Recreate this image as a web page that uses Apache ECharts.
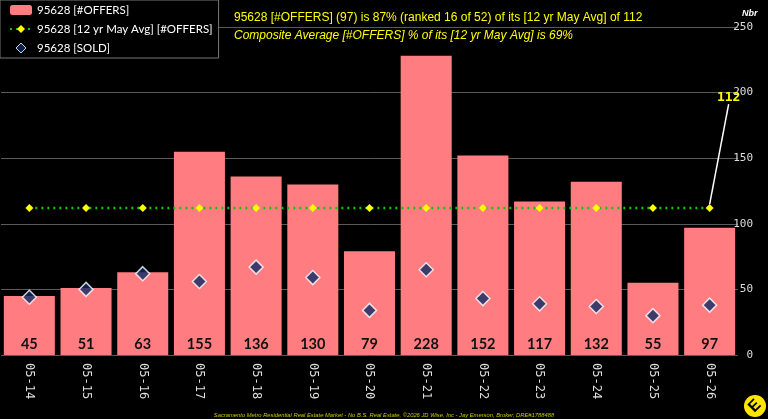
<!DOCTYPE html>
<html>
<head>
<meta charset="utf-8">
<script src="https://cdn.jsdelivr.net/npm/echarts@6/dist/echarts.min.js"></script>
<style>
  html, body { margin: 0; padding: 0; background: #000; }
  #chart { width: 768px; height: 419px; }
</style>
</head>
<body>
<div id="chart"></div>
<script type="text/javascript">
const categories = ['05-14', '05-15', '05-16', '05-17', '05-18', '05-19', '05-20', '05-21', '05-22', '05-23', '05-24', '05-25', '05-26'];
const offers = [45, 51, 63, 155, 136, 130, 79, 228, 152, 117, 132, 55, 97];
const avg12yr = [112, 112, 112, 112, 112, 112, 112, 112, 112, 112, 112, 112, 112];
const sold = [44, 50, 62, 56, 67, 59, 34, 65, 43, 39, 37, 30, 38];
const yTicks = { min: 0, max: 250, interval: 50 };

const myChart = echarts.init(document.getElementById('chart'));
const option = {
    backgroundColor: '#000',
    animation: false,
    title: [
        {
            text: '95628 [#OFFERS] (97) is 87% (ranked 16 of 52) of its [12 yr May Avg] of 112',
            left: 229, top: 7,
            textStyle: { color: '#ffff00', fontSize: 12, fontWeight: 'normal', fontFamily: 'Liberation Sans' }
        },
        {
            text: 'Composite Average [#OFFERS] % of its [12 yr May Avg] is 69%',
            left: 229, top: 25,
            textStyle: { color: '#ffff00', fontSize: 12, fontStyle: 'italic', fontWeight: 'normal', fontFamily: 'Liberation Sans' }
        },
        {
            text: 'Nbr',
            left: 737, top: 4,
            textStyle: { color: '#fff', fontSize: 9, fontStyle: 'italic', fontWeight: 'bold', fontFamily: 'Liberation Sans' }
        },
        {
            text: 'Sacramento Metro Residential Real Estate Market - No B.S. Real Estate, \u00a92026 JD Wise, Inc - Jay Emerson, Broker, DRE#1788488',
            left: 'center', top: 407,
            textStyle: { color: '#c8c800', fontSize: 5.8, fontStyle: 'italic', fontWeight: 'normal', fontFamily: 'Liberation Sans' }
        }
    ],
    legend: {
        left: 0, top: 0,
        orient: 'vertical',
        backgroundColor: '#000',
        borderColor: '#777',
        borderWidth: 1,
        padding: [3, 6, 3, 9],
        itemGap: 5,
        itemWidth: 22,
        itemHeight: 10,
        symbolKeepAspect: true,
        textStyle: { color: '#fff', fontSize: 11.5, lineHeight: 14, fontFamily: 'Lato' },
        data: [
            { name: '95628 [#OFFERS]' },
            { name: '95628 [12 yr May Avg] [#OFFERS]' },
            { name: '95628 [SOLD]', icon: 'path://M5,0L10,5L5,10L0,5Z', itemStyle: { color: '#0d2b66', borderColor: '#fff', borderWidth: 1 } }
        ]
    },
    grid: { left: 1, right: 30, top: 27, bottom: 64 },
    xAxis: {
        type: 'category',
        data: categories,
        axisLine: { show: false },
        axisTick: { show: false },
        axisLabel: {
            rotate: -90,
            color: '#ddd',
            fontSize: 12,
            fontFamily: 'DejaVu Sans Mono',
            margin: 8
        }
    },
    yAxis: {
        type: 'value',
        position: 'right',
        min: yTicks.min, max: yTicks.max, interval: yTicks.interval,
        axisLine: { show: false },
        axisTick: { show: false },
        splitLine: { lineStyle: { color: '#5a5a5a', width: 1 } },
        axisLabel: { color: '#ddd', fontSize: 11, fontFamily: 'DejaVu Sans Mono', margin: 15, align: 'right' }
    },
    series: [
        {
            name: '95628 [#OFFERS]',
            type: 'bar',
            data: offers,
            barCategoryGap: '10%',
            itemStyle: { color: '#ff7c80' },
            label: {
                show: true,
                position: 'insideBottom',
                distance: 3,
                color: '#111',
                fontSize: 14.5,
                fontWeight: 'bold',
                fontFamily: 'Lato'
            },
            z: 1
        },
        {
            name: '95628 [12 yr May Avg] [#OFFERS]',
            type: 'line',
            data: avg12yr.map(function (v, i) {
                if (i === avg12yr.length - 1) {
                    return {
                        value: v,
                        label: {
                            show: true,
                            formatter: '{c}',
                            color: '#ffff00',
                            fontSize: 13,
                            fontWeight: 'bold',
                            fontFamily: 'DejaVu Sans Mono'
                        },
                        labelLine: { show: true, lineStyle: { color: '#fff', width: 1.5 } }
                    };
                }
                return v;
            }),
            symbol: 'diamond',
            symbolSize: 8,
            itemStyle: { color: '#ffff00' },
            lineStyle: { color: '#00cc00', width: 2.5, type: [2, 4] },
            labelLayout: function (params) {
                if (params.dataIndex !== avg12yr.length - 1) return {};
                return { dx: 19, dy: -95 };
            },
            z: 3
        },
        {
            name: '95628 [SOLD]',
            type: 'scatter',
            data: sold,
            symbol: 'diamond',
            symbolSize: 14,
            itemStyle: { color: '#0d2b66', borderColor: '#fff', borderWidth: 1.5 },
            z: 4
        }
    ],
    graphic: [
        {
            type: 'group',
            left: 744, top: 395,
            children: [
                { type: 'circle', shape: { cx: 11, cy: 11, r: 11 }, style: { fill: '#ffe600' } },
                {
                    type: 'text', x: 11, y: 11, rotation: Math.PI / 4,
                    style: { text: 'E', fill: '#000', font: 'bold 16px Liberation Sans', align: 'center', verticalAlign: 'middle' }
                }
            ]
        }
    ]
};
myChart.setOption(option);
window.addEventListener('resize', function () {
    myChart.resize();
});
</script>
</body>
</html>
